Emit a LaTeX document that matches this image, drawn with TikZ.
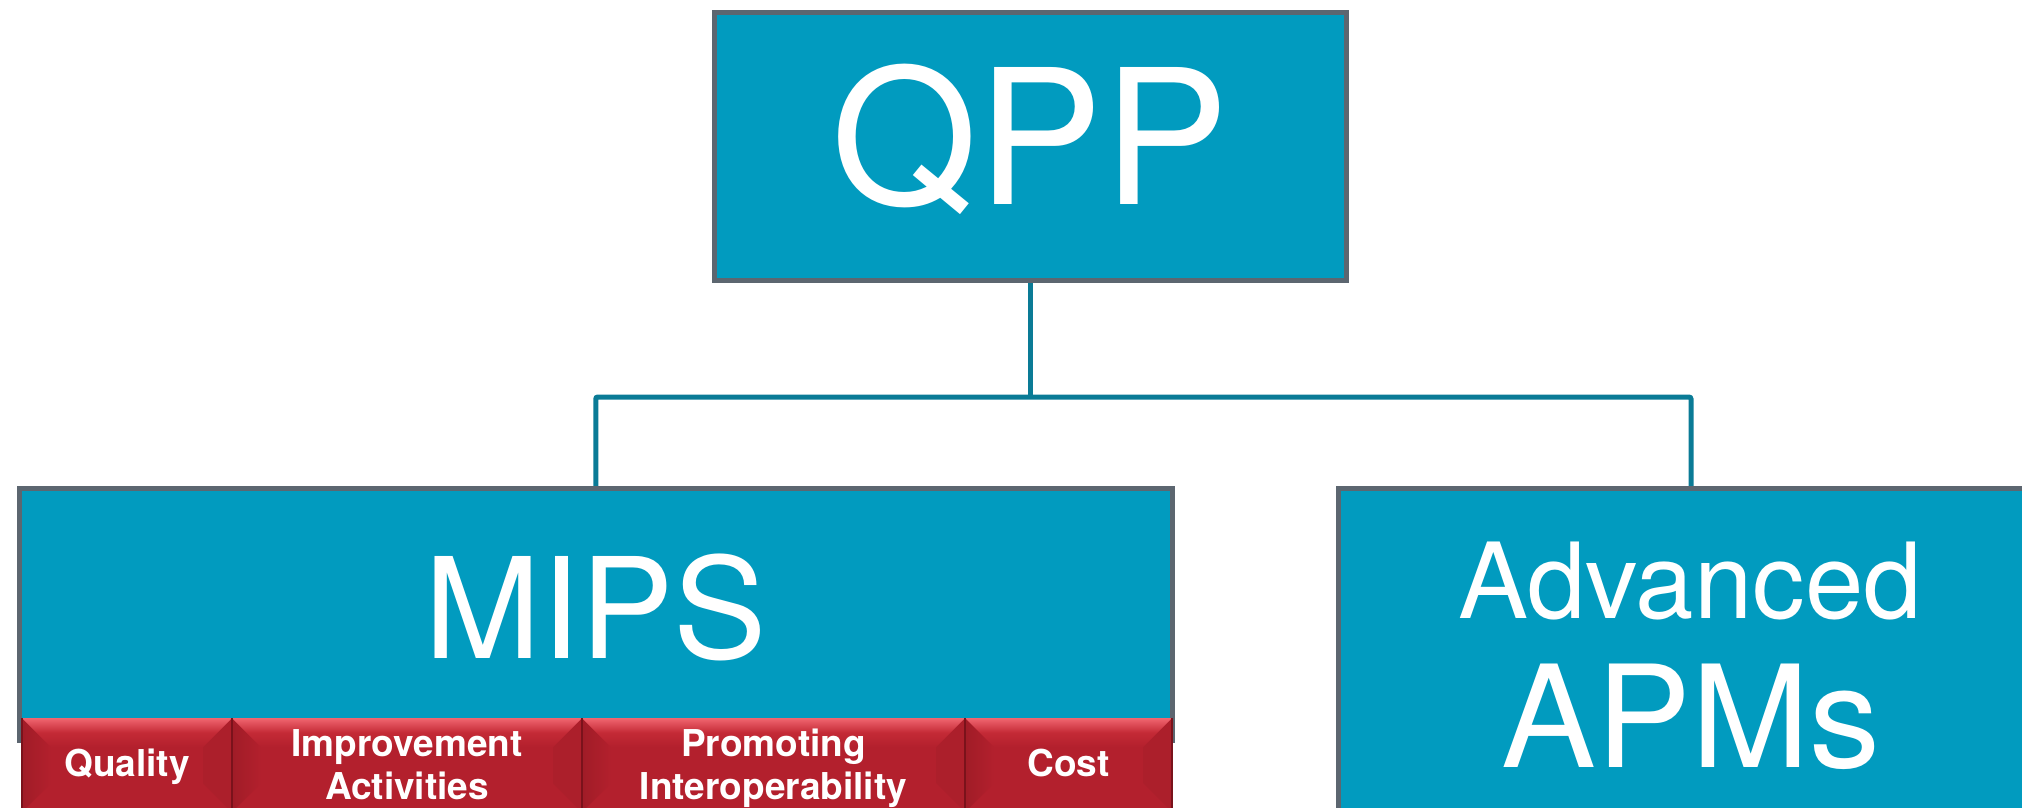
\documentclass[tikz,border=0pt]{standalone}
\usepackage{fontspec}
\setmainfont{TeX Gyre Heros}
\definecolor{boxblue}{HTML}{019BBF}
\definecolor{boxedge}{HTML}{5C6670}
\definecolor{linkteal}{HTML}{0A7B96}
\definecolor{tabred}{HTML}{B3202D}
\definecolor{tabhi}{HTML}{F06670}
\definecolor{tabmid}{HTML}{C42A36}
\definecolor{tabdark}{HTML}{A01C27}
\definecolor{tabside}{HTML}{AC1F2B}
\definecolor{tabsep}{HTML}{7A121B}
\tikzset{
  bluebox/.style={rectangle, draw=boxedge, line width=5pt, fill=boxblue,
    text=white, inner sep=0pt, outer sep=0pt},
  conn/.style={draw=linkteal, line width=5pt, rounded corners=2pt},
  tabbox/.style={rectangle, fill=tabred, inner sep=0pt, outer sep=0pt,
    minimum height=94pt},
  tablabel/.style={text=white, align=center, inner sep=0pt,
    font=\fontsize{37}{43}\selectfont\bfseries},
}
\begin{document}
\begin{tikzpicture}[x=1pt,y=-1pt]
\useasboundingbox (0,0) rectangle (2022,808);
\clip (0,0) rectangle (2022,808);

% junction of the tree connectors
\coordinate (bus) at (1030,397);

% boxes
\node[bluebox, minimum width=632pt, minimum height=267pt,
      text height=115pt, text depth=0pt,
      font=\fontsize{188}{188}\selectfont] (qpp) at (1030,146.5) {QPP};
\node[bluebox, minimum width=1152.5pt, minimum height=252pt,
      text height=88pt, text depth=0pt,
      font=\fontsize{140}{140}\selectfont] (mips) at (595.75,614) {MIPS};
\node[bluebox, minimum width=706pt, minimum height=412pt] (apms) at (1691,694) {};

% connectors
\draw[conn] (qpp.south) -- (bus);
\draw[conn] (mips.north) |- (bus) -| (apms.north);

% redraw box outlines over the connector ends
\draw[boxedge, line width=5pt] (qpp.south west) rectangle (qpp.north east);
\draw[boxedge, line width=5pt] (mips.south west) rectangle (mips.north east);
\draw[boxedge, line width=5pt] (apms.south west) rectangle (apms.north east);

% texts of the right box
\node[text=white, inner sep=0pt, anchor=base,
      font=\fontsize{105}{105}\selectfont] (advtext) at (1690,618) {Advanced};
\node[text=white, inner sep=0pt, anchor=base,
      font=\fontsize{142}{142}\selectfont] (apmtext) at (1691,767) {APMs};

% bevelled category tabs along the bottom of MIPS
\foreach \n/\a/\b/\yb/\t in {quality/22/232/776/{Quality},
    improve/232/582/799/{Improvement\\Activities},
    promote/582/965/799/{Promoting\\Interoperability},
    cost/965/1172/776/{Cost}} {
  \node[tabbox, minimum width={\b-\a}, anchor=north west] (\n) at (\a,718) {};
  \shade[left color=tabdark, right color=tabred]
    (\a,718) -- ({\a+29},747) -- ({\a+29},783) -- (\a,812) -- cycle;
  \fill[tabside] (\b,718) -- ({\b-29},747) -- ({\b-29},783) -- (\b,812) -- cycle;
  \shade[top color=tabhi, bottom color=tabred, middle color=tabmid]
    (\a,718) -- (\b,718) -- ({\b-29},747) -- ({\a+29},747) -- cycle;
  \draw[tabsep, line width=2pt] (\a,718) -- (\a,812);
  \draw[tabsep, line width=2pt] (\b,718) -- (\b,812);
  \node[tablabel, anchor=base] (\n-label) at ({(\a+\b)/2},\yb) {\t};
}
\end{tikzpicture}
\end{document}
